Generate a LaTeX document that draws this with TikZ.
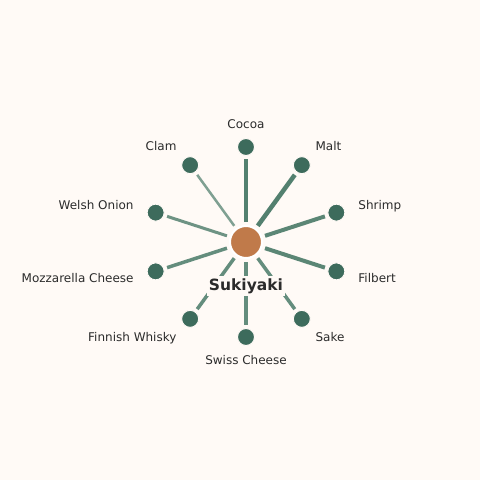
\documentclass[tikz,border=0pt]{standalone}
\usepackage{fontspec}
\setmainfont{DejaVu Sans}
\definecolor{bgclr}{HTML}{FFFAF6}
\definecolor{hubclr}{HTML}{C07A4A}
\definecolor{leafclr}{HTML}{3D6B5C}
\definecolor{spokeclr}{HTML}{4A7A68}
\definecolor{txtclr}{HTML}{2B2B2B}
\tikzset{
	hub/.style={circle, fill=hubclr, draw=white, line width=2pt, minimum size=32pt, inner sep=0pt, outer sep=0pt},
	leaf/.style={circle, fill=leafclr, draw=bgclr, line width=1pt, minimum size=17pt, inner sep=0pt, outer sep=0pt},
	spoke/.style={draw=spokeclr, shorten <=4pt, shorten >=3.5pt},
	lab/.style={text=txtclr, font=\fontsize{12}{14}\selectfont, inner sep=0pt, text height=8.8pt, text depth=0pt}
}

\begin{document}
\begin{tikzpicture}[x=1pt, y=1pt]
	\fill[bgclr] (-246,-238) rectangle (234,242);
	\useasboundingbox (-246,-238) rectangle (234,242);
	% hub and leaves
	\node[hub] (sukiyaki) at (0,0) {};
	\node[leaf] (cocoa) at (90:95) {};
	\node[leaf] (malt) at (54:95) {};
	\node[leaf] (shrimp) at (18:95) {};
	\node[leaf] (filbert) at (-18:95) {};
	\node[leaf] (sake) at (-54:95) {};
	\node[leaf] (swiss) at (-90:95) {};
	\node[leaf] (whisky) at (-126:95) {};
	\node[leaf] (mozzarella) at (-162:95) {};
	\node[leaf] (onion) at (162:95) {};
	\node[leaf] (clam) at (126:95) {};
	% spokes
	\draw[spoke, line width=4.5pt, opacity=0.95] (sukiyaki) -- (cocoa);
	\draw[spoke, line width=4.5pt, opacity=0.95] (sukiyaki) -- (malt);
	\draw[spoke, line width=4pt, opacity=0.9] (sukiyaki) -- (shrimp);
	\draw[spoke, line width=4pt, opacity=0.9] (sukiyaki) -- (filbert);
	\draw[spoke, line width=3.5pt, opacity=0.85] (sukiyaki) -- (sake);
	\draw[spoke, line width=3.5pt, opacity=0.85] (sukiyaki) -- (swiss);
	\draw[spoke, line width=3.5pt, opacity=0.85] (sukiyaki) -- (whisky);
	\draw[spoke, line width=3.5pt, opacity=0.85] (sukiyaki) -- (mozzarella);
	\draw[spoke, line width=3pt, opacity=0.8] (sukiyaki) -- (onion);
	\draw[spoke, line width=2.5pt, opacity=0.7] (sukiyaki) -- (clam);
	% nodes again, over the spokes
	\node[hub] at (sukiyaki) {};
	\foreach \n in {cocoa,malt,shrimp,filbert,sake,swiss,whisky,mozzarella,onion,clam}
		\node[leaf] at (\n) {};
	% labels
	\node[lab] (cocoa-l) at (90:118) {Cocoa};
	\node[lab, anchor=west] (malt-l) at (54:118) {Malt};
	\node[lab, anchor=west] (shrimp-l) at (18:118) {Shrimp};
	\node[lab, anchor=west] (filbert-l) at (-18:118) {Filbert};
	\node[lab, anchor=west] (sake-l) at (-54:118) {Sake};
	\node[lab] (swiss-l) at (-90:118) {Swiss Cheese};
	\node[lab, anchor=east] (whisky-l) at (-126:118) {Finnish Whisky};
	\node[lab, anchor=east] (mozzarella-l) at (-162:118) {Mozzarella Cheese};
	\node[lab, anchor=east] (onion-l) at (162:118) {Welsh Onion};
	\node[lab, anchor=east] (clam-l) at (126:118) {Clam};
	\node[text=txtclr, fill=bgclr, inner sep=2pt, font=\fontsize{15.5}{18}\selectfont\bfseries] (title) at (0,-44) {Sukiyaki};
\end{tikzpicture}
\end{document}
